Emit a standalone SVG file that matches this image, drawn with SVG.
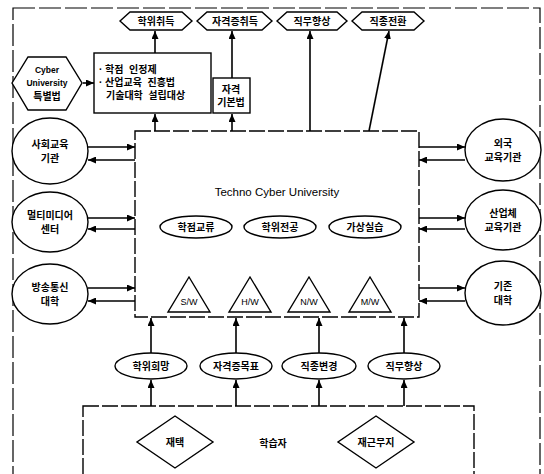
<svg xmlns="http://www.w3.org/2000/svg" width="544" height="474" viewBox="0 0 544 474">
<defs>
<marker id="ah" viewBox="0 0 8 7" refX="8" refY="3.5" markerWidth="8" markerHeight="7" markerUnits="userSpaceOnUse" orient="auto"><path d="M0,0 L8,3.5 L0,7 z" fill="#000"/></marker>
<style>
.s{fill:#fff;stroke:#000;stroke-width:1.4}
.d{fill:#fff;stroke:#000;stroke-width:1.4;stroke-dasharray:16 3}
.o{fill:none;stroke:#000;stroke-width:1.2;stroke-dasharray:22 4}
.c{stroke:#000;stroke-width:1.6;fill:none;marker-end:url(#ah)}
text{font-family:"Liberation Sans","Noto Sans CJK KR",sans-serif;font-size:10px;font-weight:bold;fill:#000;text-anchor:middle;dominant-baseline:central}
.t{font-size:11.5px;font-weight:normal}
.l{text-anchor:start;white-space:pre}
.w{font-weight:normal;font-size:9px}
.e{font-size:8.5px}
</style>
</defs>
<rect class="o" x="13" y="8" width="527" height="480"/>

<g id="center"><rect class="d" x="135" y="131" width="284" height="186"/>
<text class="t" x="277" y="192">Techno Cyber University</text></g>
<g id="e1"><ellipse class="s" cx="196" cy="227" rx="36" ry="11"/><text x="196" y="227">학점교류</text></g>
<g id="e2"><ellipse class="s" cx="280" cy="227" rx="36" ry="11"/><text x="280" y="227">학위전공</text></g>
<g id="e3"><ellipse class="s" cx="365" cy="227" rx="36" ry="11"/><text x="365" y="227">가상실습</text></g>
<g id="sw"><polygon class="s" points="189,277 210,312 168,312"/><text class="w" x="189" y="302">S/W</text></g>
<g id="hw"><polygon class="s" points="250,277 271,312 229,312"/><text class="w" x="250" y="302">H/W</text></g>
<g id="nw"><polygon class="s" points="309,277 330,312 288,312"/><text class="w" x="309" y="302">N/W</text></g>
<g id="mw"><polygon class="s" points="370,277 391,312 349,312"/><text class="w" x="370" y="302">M/W</text></g>

<g id="h1"><polygon class="s" points="120,21 130,12 182,12 192,21 182,30 130,30"/><text x="156" y="21">학위취득</text></g>
<g id="h2"><polygon class="s" points="197,21 207,12 262,12 272,21 262,30 207,30"/><text x="235" y="21">자격증취득</text></g>
<g id="h3"><polygon class="s" points="277,21 287,12 337,12 347,21 337,30 287,30"/><text x="312" y="21">직무향상</text></g>
<g id="h4"><polygon class="s" points="352,21 362,12 414,12 424,21 414,30 362,30"/><text x="388" y="21">직종전환</text></g>

<g id="cyber"><polygon class="s" points="12,83 28,57 66,57 82,83 66,110 28,110"/>
<text class="e" x="47" y="70">Cyber</text><text class="e" x="47" y="83">University</text><text x="47" y="96">특별법</text></g>
<g id="law"><rect class="s" x="94" y="53" width="117" height="60"/>
<text class="l" x="99" y="69">· 학점  인정제</text><text class="l" x="99" y="82">· 산업교육  진흥법</text><text class="l" x="106" y="95">기술대학  설립대상</text></g>
<g id="qual"><rect class="s" x="213" y="78" width="37" height="35"/><text x="231" y="89">자격</text><text x="231" y="102">기본법</text></g>

<g id="l1"><ellipse class="s" cx="50" cy="151" rx="38" ry="33"/><text x="50" y="144">사회교육</text><text x="50" y="158">기관</text></g>
<g id="l2"><ellipse class="s" cx="50" cy="222" rx="38" ry="30"/><text x="50" y="215">멀티미디어</text><text x="50" y="229">센터</text></g>
<g id="l3"><ellipse class="s" cx="50" cy="294" rx="38" ry="30"/><text x="50" y="287">방송통신</text><text x="50" y="301">대학</text></g>
<g id="r1"><ellipse class="s" cx="503" cy="150" rx="38" ry="31"/><text x="503" y="143">외국</text><text x="503" y="157">교육기관</text></g>
<g id="r2"><ellipse class="s" cx="503" cy="220" rx="38" ry="30"/><text x="503" y="213">산업체</text><text x="503" y="227">교육기관</text></g>
<g id="r3"><ellipse class="s" cx="503" cy="293" rx="38" ry="32"/><text x="503" y="286">기존</text><text x="503" y="300">대학</text></g>

<g id="b1"><ellipse class="s" cx="151" cy="366" rx="36" ry="13"/><text x="151" y="366">학위희망</text></g>
<g id="b2"><ellipse class="s" cx="236" cy="366" rx="36" ry="13"/><text x="236" y="366">자격증목표</text></g>
<g id="b3"><ellipse class="s" cx="319" cy="366" rx="37" ry="13"/><text x="319" y="366">직종변경</text></g>
<g id="b4"><ellipse class="s" cx="404" cy="366" rx="36" ry="13"/><text x="404" y="366">직무향상</text></g>

<g id="learner"><rect class="d" x="83" y="406" width="391" height="80"/><text x="273" y="443">학습자</text></g>
<g id="home"><polygon class="s" points="175,416 213,442 175,468 137,442"/><text x="175" y="442">재택</text></g>
<g id="work"><polygon class="s" points="376,416 414,442 376,468 338,442"/><text x="376" y="442">재근무지</text></g>

<g id="connectors">
<path class="c" d="M155,53 L155,31"/>
<path class="c" d="M232,78 L232,31"/>
<path class="c" d="M310,131 L310,31"/>
<path class="c" d="M369,131 L389,31"/>
<path class="c" d="M155,131 L155,114"/>
<path class="c" d="M232,131 L232,114"/>
<path class="c" d="M83,83 L94,83"/>
<path class="c" d="M88,147 L135,147"/><path class="c" d="M135,160 L88,160"/>
<path class="c" d="M88,218 L135,218"/><path class="c" d="M135,229 L88,229"/>
<path class="c" d="M88,288 L135,288"/><path class="c" d="M135,301 L88,301"/>
<path class="c" d="M419,147 L465,147"/><path class="c" d="M465,160 L419,160"/>
<path class="c" d="M419,218 L465,218"/><path class="c" d="M465,229 L419,229"/>
<path class="c" d="M419,288 L465,288"/><path class="c" d="M465,301 L419,301"/>
<path class="c" d="M151,353 L151,318"/><path class="c" d="M151,406 L151,380"/>
<path class="c" d="M236,353 L236,318"/><path class="c" d="M236,406 L236,380"/>
<path class="c" d="M319,353 L319,318"/><path class="c" d="M319,406 L319,380"/>
<path class="c" d="M404,353 L404,318"/><path class="c" d="M404,406 L404,380"/>
</g>
</svg>
